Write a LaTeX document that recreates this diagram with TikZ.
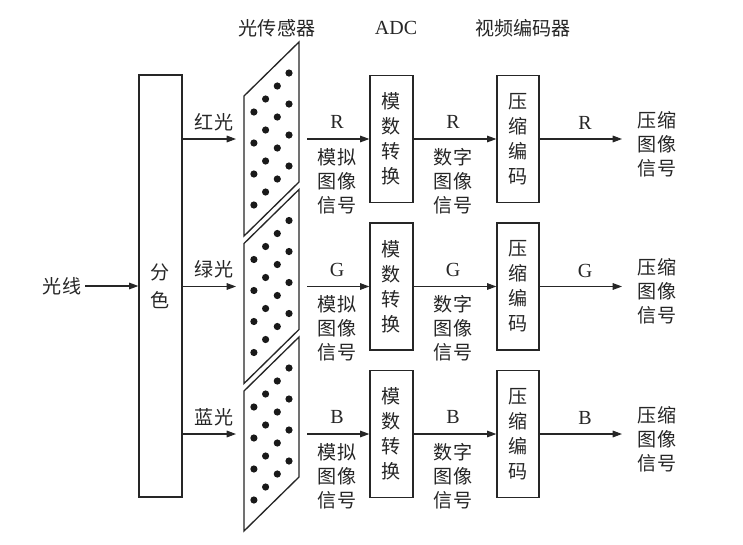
\documentclass[tikz,border=0pt]{standalone}
\usepackage{fontspec}
\setmainfont{Liberation Serif}
\newfontfamily\cjk{Noto Sans CJK SC}
\usetikzlibrary{arrows.meta}
\begin{document}
\begin{tikzpicture}[x=0.75pt,y=-0.75pt,
  ln/.style={draw=black!85, line width=1pt},
  arr/.style={draw=black!85, line width=0.8pt, -{Triangle[length=7pt,width=5pt]}},
  box/.style={draw=black!85, line width=1pt, minimum width=32.25pt, inner sep=0pt},
  txt/.style={font=\cjk\fontsize{14.3}{18}\selectfont, text=black!85, inner sep=0pt, align=center},
  boxtxt/.style={font=\cjk\fontsize{14.3}{18.75}\selectfont, text=black!85, align=center},
  lat/.style={font=\fontsize{15}{18}\selectfont, text=black!85, inner sep=0pt},
  dotfill/.style={fill=black!90}]
\useasboundingbox (0,0) rectangle (743,544);
\fill[white] (0,0) rectangle (743,544);
% headings
\node[txt] (h1) at (277,28) {光传感器};
\node[lat] (h2) at (396,28) {ADC};
\node[txt] (h3) at (523,28) {视频编码器};
% input and splitter
\node[txt] (light) at (62,286) {光线};
\node[box, boxtxt, font=\cjk\fontsize{14.3}{21}\selectfont, minimum height=316.5pt] (split) at (160.5,286) {分\\色};
\draw[arr] ([xshift=3pt]light.east) -- (split.west |- light.east);
\foreach \i/\c/\lab in {0/R/红光, 1/G/绿光, 2/B/蓝光}{
  \pgfmathsetmacro\y{139+147.5*\i}
  % sensor
  \draw[ln] (244,\y-43) -- (299,\y-97) -- (299,\y+43) -- (244,\y+97) -- cycle;
  \foreach \k in {0,...,3}{
    \foreach \j in {0,...,3}{
      \fill[dotfill] ({289-11.7*\k},{\y-66+13*\k+31*\j}) circle[radius=2.7pt];
    }
  }
  \coordinate (sin\i) at (236,\y);
  \coordinate (sout\i) at (307,\y);
  \draw[arr] (split.east |- sin\i) -- (sin\i);
  \node[txt] (lab\i) at (214,\y-17) {\lab};
  % ADC
  \node[box, boxtxt, minimum height=95.25pt] (adc\i) at (391.5,\y) {模\\数\\转\\换};
  \draw[arr] (sout\i) -- (adc\i.west);
  \node[lat] (ra\i) at (337,\y-17) {\c};
  \node[txt] (la\i) at (337,\y+42) {模拟\\图像\\信号};
  % encoder
  \node[box, boxtxt, minimum width=31.5pt, minimum height=95.25pt] (enc\i) at (518,\y) {压\\缩\\编\\码};
  \draw[arr] (adc\i.east) -- (enc\i.west);
  \node[lat] (rd\i) at (453,\y-17) {\c};
  \node[txt] (ld\i) at (453,\y+42) {数字\\图像\\信号};
  % output
  \coordinate (oend\i) at (622,\y);
  \draw[arr] (enc\i.east) -- (oend\i);
  \node[lat] (ro\i) at (585,\y-16) {\c};
  \node[txt] (out\i) at (657,\y+5) {压缩\\图像\\信号};
}
\end{tikzpicture}
\end{document}
